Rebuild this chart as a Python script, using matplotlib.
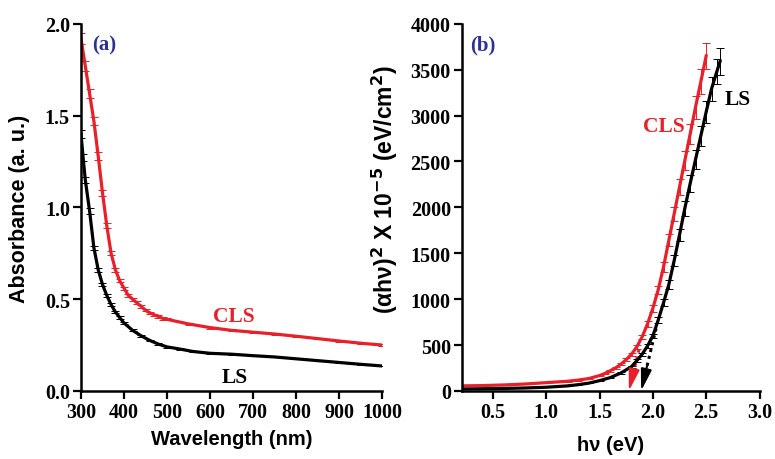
import matplotlib.pyplot as plt
import numpy as np

# panel (a): absorbance vs wavelength
wl = [300, 310, 320, 330, 340, 350, 360, 370, 380, 390, 400, 410, 420, 430,
      440, 450, 460, 470, 480, 490, 500, 550, 600, 650, 700, 750, 800, 850,
      900, 950, 1000]
abs_cls = [1.92, 1.77, 1.62, 1.47, 1.28, 1.08, 0.90, 0.75, 0.66, 0.60, 0.56,
           0.52, 0.50, 0.48, 0.46, 0.44, 0.425, 0.415, 0.405, 0.395, 0.39,
           0.365, 0.345, 0.33, 0.32, 0.31, 0.298, 0.285, 0.272, 0.26, 0.25]
wl_ls = [300, 305, 310, 320, 330, 340, 350, 360, 370, 380, 390, 400, 420, 440,
         460, 480, 500, 530, 560, 600, 650, 700, 750, 800, 850, 900, 950, 1000]
abs_ls = [1.40, 1.27, 1.15, 0.98, 0.78, 0.66, 0.58, 0.52, 0.47, 0.43, 0.40,
          0.37, 0.33, 0.30, 0.275, 0.255, 0.24, 0.228, 0.215, 0.205, 0.20,
          0.192, 0.185, 0.175, 0.165, 0.155, 0.145, 0.136]

# panel (b): Tauc plot
hv_cls = [0.21, 0.4, 0.6, 0.8, 1.0, 1.2, 1.3, 1.4, 1.5, 1.55, 1.6, 1.65, 1.7,
          1.75, 1.8, 1.85, 1.9, 1.95, 2.0, 2.05, 2.1, 2.15, 2.2, 2.25, 2.3,
          2.35, 2.4, 2.45, 2.5]
tauc_cls = [55, 58, 65, 75, 90, 105, 118, 135, 167, 190, 220, 250, 290, 340,
            400, 480, 590, 730, 900, 1100, 1350, 1640, 1930, 2220, 2510, 2800,
            3090, 3370, 3650]
hv_ls = [0.21, 0.4, 0.6, 0.8, 1.0, 1.2, 1.3, 1.4, 1.5, 1.6, 1.7, 1.8, 1.85,
         1.9, 1.95, 2.0, 2.05, 2.1, 2.15, 2.2, 2.25, 2.3, 2.35, 2.4, 2.45, 2.5,
         2.55, 2.6, 2.63]
tauc_ls = [20, 23, 27, 32, 40, 55, 68, 85, 112, 145, 195, 265, 330, 400, 490,
           600, 770, 960, 1160, 1420, 1700, 1990, 2260, 2520, 2780, 3040, 3290,
           3480, 3590]
# band gap extrapolations: start point on curve -> intercept
eg_cls = 1.775
eg_ls = 1.89
tan_cls = (1.87, 450)
tan_ls = (2.03, 680)

serif = 'Liberation Serif'
sans = 'Liberation Sans'
blue = '#2e3192'
red = '#e8202a'

fig = plt.figure(figsize=(7.75, 4.6), dpi=100)
ax = fig.add_axes([0.1045, 0.148, 0.3885, 0.798])
bx = fig.add_axes([0.596, 0.148, 0.384, 0.798])

for a in (ax, bx):
    a.spines['top'].set_visible(False)
    a.spines['right'].set_visible(False)
    a.spines['left'].set_linewidth(1.8)
    a.spines['bottom'].set_linewidth(1.8)
    a.tick_params(direction='out', width=1.6, length=6, labelsize=14.5, pad=2)

# (a)
ax.errorbar(wl, abs_cls, yerr=np.array(abs_cls) * 0.015, color=red,
            lw=2.3, capsize=3, elinewidth=0.7, capthick=0.7)
ax.errorbar(wl_ls, abs_ls, yerr=np.array(abs_ls) * 0.015, color='black',
            lw=2.3, capsize=3, elinewidth=0.7, capthick=0.7)
ax.set_xlim(300, 1000)
ax.set_ylim(0, 2.0)
ax.set_xticks(range(300, 1001, 100))
ax.set_yticks([0.0, 0.5, 1.0, 1.5, 2.0])
ax.set_yticklabels(['0.0', '0.5', '1.0', '1.5', '2.0'], family=serif, weight='bold')
ax.set_xticklabels([str(v) for v in range(300, 1001, 100)], family=serif, weight='bold')
ax.set_xlabel('Wavelength (nm)', family=sans, weight='bold', fontsize=14.5)
ax.set_ylabel('Absorbance (a. u.)', family=sans, weight='bold', fontsize=15.5)
ax.xaxis.set_label_coords(0.5, -0.105)
ax.yaxis.set_label_coords(-0.17, 0.5)
ax.text(0.037, 0.945, '(a)', transform=ax.transAxes, color=blue,
        family=serif, weight='bold', fontsize=15, va='center')
ax.text(656, 0.41, 'CLS', color=red, family=serif, weight='bold',
        fontsize=15.5, ha='center', va='center')
ax.text(658, 0.076, 'LS', color='black', family=serif, weight='bold',
        fontsize=15.5, ha='center', va='center')

# (b)
bx.errorbar(hv_cls, tauc_cls, yerr=np.array(tauc_cls) * 0.04, color=red,
            lw=2.3, capsize=3, elinewidth=0.7, capthick=0.7)
bx.errorbar(hv_ls, tauc_ls, yerr=np.array(tauc_ls) * 0.04, color='black',
            lw=2.3, capsize=3, elinewidth=0.7, capthick=0.7)
for (x0, y0), eg, c in [(tan_cls, eg_cls, red), (tan_ls, eg_ls, 'black')]:
    xm = eg + (x0 - eg) * 0.4
    ym = y0 * 0.4
    bx.plot([x0, xm], [y0, ym], color=c, lw=2.2, linestyle=(0, (1, 1.3)))
    bx.annotate('', xy=(eg, 0), xytext=(xm, ym),
                arrowprops=dict(arrowstyle='-|>,head_length=1.0,head_width=0.25',
                                color=c, lw=1.5, shrinkA=0, shrinkB=0,
                                mutation_scale=13))
bx.set_xlim(0.21, 3.0)
bx.set_ylim(0, 4000)
bx.set_xticks([0.5, 1.0, 1.5, 2.0, 2.5, 3.0])
bx.set_xticklabels(['0.5', '1.0', '1.5', '2.0', '2.5', '3.0'], family=serif, weight='bold')
bx.set_yticks(range(0, 4001, 500))
bx.set_yticklabels([str(v) for v in range(0, 4001, 500)], family=serif, weight='bold')
bx.set_xlabel('h\u03bd (eV)', family=sans, weight='bold', fontsize=14.5)
bx.set_ylabel('(\u03b1h\u03bd)$^\\mathbf{2}$ X 10$^\\mathbf{-5}$ (eV/cm$^\\mathbf{2}$)',
              family=sans, weight='bold', fontsize=16.5)
bx.xaxis.set_label_coords(0.5, -0.12)
bx.yaxis.set_label_coords(-0.208, 0.55)
bx.text(0.026, 0.945, '(b)', transform=bx.transAxes, color=blue,
        family=serif, weight='bold', fontsize=15, va='center')
bx.text(2.10, 2888, 'CLS', color=red, family=serif, weight='bold',
        fontsize=15.5, ha='center', va='center')
bx.text(2.80, 3183, 'LS', color='black', family=serif, weight='bold',
        fontsize=15.5, ha='center', va='center')

fig.savefig('out.png', dpi=100)
